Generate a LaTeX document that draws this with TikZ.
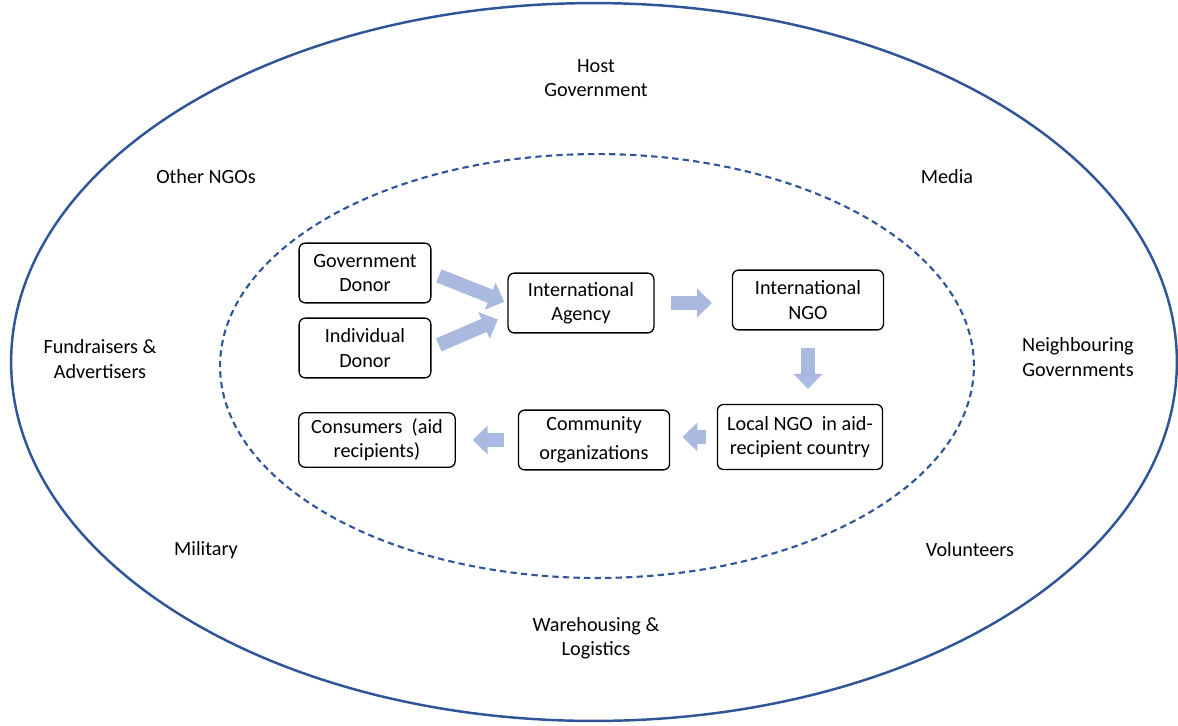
\documentclass[tikz,border=0pt]{standalone}
\usepackage{fontspec}
\setmainfont{Carlito}
\usetikzlibrary{arrows.meta,positioning}
\definecolor{ringblue}{HTML}{2F5597}
\definecolor{flowblue}{HTML}{A9B9E0}
\tikzset{every picture/.style={font=\fontsize{11.5}{13.8}\selectfont}}
\tikzset{box/.style={draw,rounded corners=3.5pt,line width=0.75pt,align=center,minimum height=34pt,inner sep=2pt}}
\tikzset{ringtext/.style={align=center,inner sep=0pt}}
\tikzset{flow/.style={flowblue,line width=8pt,-{Triangle[length=8.5pt,width=16pt]}}}

\begin{document}
\begin{tikzpicture}[x=0.02cm,y=-0.02cm]
    \useasboundingbox (0,0) rectangle (1178,725);
    \draw [ringblue,line width=1.4pt] (594,362) ellipse [x radius=11.66cm,y radius=7.18cm];
    \draw [ringblue,line width=1.2pt,dash pattern=on 3.6pt off 2.4pt] (597,366) ellipse [x radius=7.54cm,y radius=4.24cm];
    \node [ringtext] (host) at (596,78) {Host\\Government};
    \node [ringtext] (others) at (206,177) {Other NGOs};
    \node [ringtext] (media) at (947,177) {Media};
    \node [ringtext] (fund) at (100,359) {Fundraisers \&\\Advertisers};
    \node [ringtext] (neigh) at (1078,357) {Neighbouring\\Governments};
    \node [ringtext] (mil) at (206,550) {Military};
    \node [ringtext] (vol) at (970,550) {Volunteers};
    \node [ringtext] (ware) at (596,638) {Warehousing \&\\Logistics};
    \node [box,minimum width=75pt] (gov) at (365,273) {Government\\Donor};
    \node [box,minimum width=75pt] (ind) at (365,348) {Individual\\Donor};
    \node [box,minimum width=83pt] (agency) at (581,303) {International\\Agency};
    \node [box,minimum width=86pt] (ngo) at (808,300) {International\\NGO};
    \node [box,minimum width=94pt,minimum height=37pt] (local) at (800,437) {Local NGO~ in aid-\\recipient country};
    \node [box,minimum width=86pt] (comm) at (594,440) {Community\\[3pt]organizations};
    \node [box,minimum width=89pt,minimum height=31pt] (cons) at (377,440) {Consumers~ (aid\\recipients)};
    \draw [flow,shorten <=4.5pt,shorten >=2pt] (gov.east) -- (agency.west);
    \draw [flow,shorten <=4.5pt,shorten >=6pt] (ind.east) -- ([yshift=-7pt]agency.west);
    \draw [flow,shorten <=9.6pt,shorten >=11.3pt] (agency.east) -- (agency.east -| ngo.west);
    \draw [flow,shorten <=10pt,shorten >=8.5pt] (ngo.south) -- (ngo.south |- local.north);
    \draw [flow,shorten <=6pt,shorten >=7pt] (local.west) -- (local.west -| comm.east);
    \draw [flow,shorten <=8pt,shorten >=9.6pt] (comm.west) -- (comm.west -| cons.east);
\end{tikzpicture}
\end{document}
